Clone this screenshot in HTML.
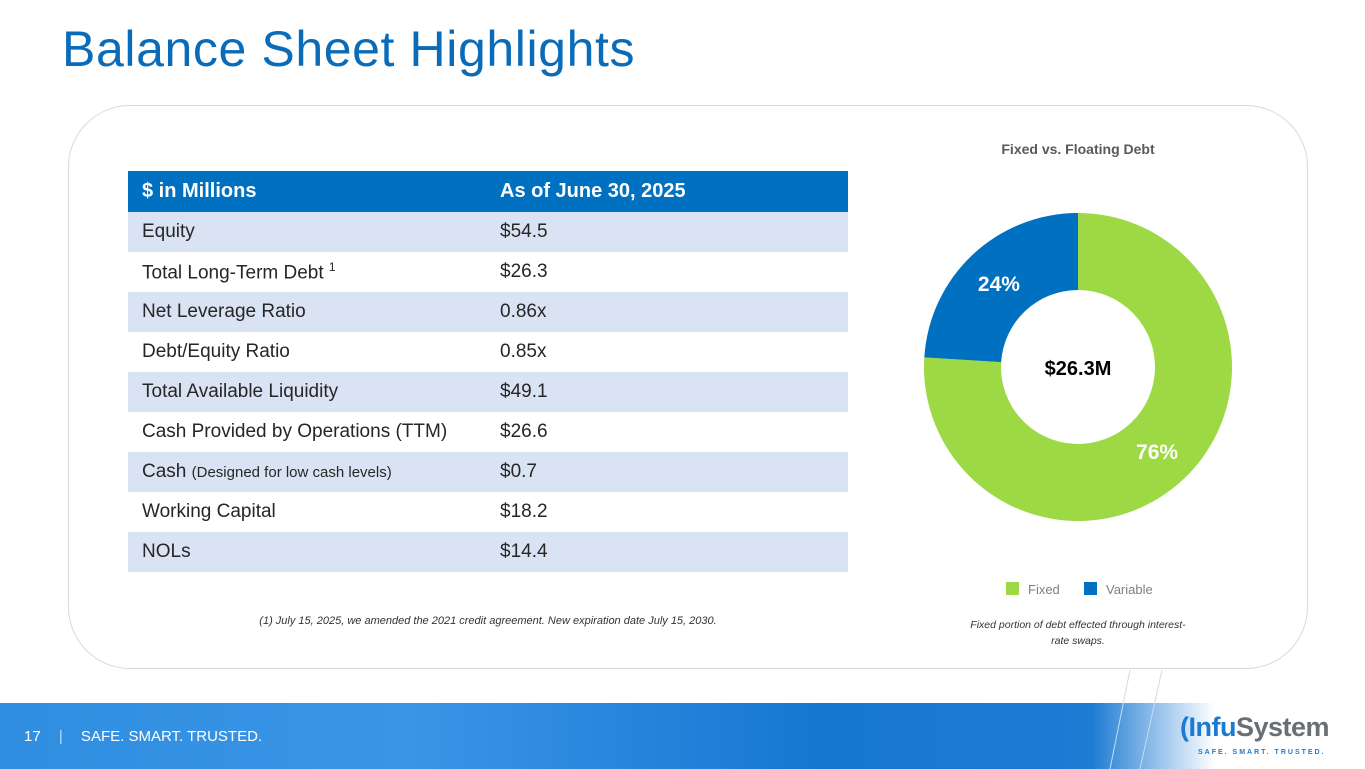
<!DOCTYPE html>
<html><head><meta charset="utf-8"><style>
body{margin:0;width:1365px;height:769px;overflow:hidden;background:#fff;font-family:"Liberation Sans",sans-serif;position:relative}
.abs{position:absolute}
#title{left:62px;top:20px;font-size:50px;color:#0a6bb8;letter-spacing:0.6px}
#card{left:68px;top:105px;width:1238px;height:562px;border:1.5px solid #d9d9d9;border-radius:62px}
table{position:absolute;left:128px;top:171px;width:720px;border-collapse:collapse;font-size:19px;color:#262626}
td{height:40px;padding:0 0 0 14px;box-sizing:border-box}
td.v{padding-left:0;width:348px}
tr.h td{background:#0070c0;color:#fff;font-weight:bold;height:41px;font-size:20px}
tr.a td{background:#dae3f3}
#foot{left:0;top:703px;width:1365px;height:66px;background:linear-gradient(90deg,#2f8ee0 0%,#3a95e6 30%,#1677d3 60%,#1e7bd4 80%,rgba(255,255,255,0.95) 89%,#fff 100%)}
</style></head><body>
<div id="title" class="abs">Balance Sheet Highlights</div>
<div id="card" class="abs"></div>
<table>
<tr class="h"><td>$ in Millions</td><td class="v">As of June 30, 2025</td></tr>
<tr class="a"><td>Equity</td><td class="v">$54.5</td></tr>
<tr><td>Total Long-Term Debt <sup style="font-size:12px">1</sup></td><td class="v">$26.3</td></tr>
<tr class="a"><td>Net Leverage Ratio</td><td class="v">0.86x</td></tr>
<tr><td>Debt/Equity Ratio</td><td class="v">0.85x</td></tr>
<tr class="a"><td>Total Available Liquidity</td><td class="v">$49.1</td></tr>
<tr><td>Cash Provided by Operations (TTM)</td><td class="v">$26.6</td></tr>
<tr class="a"><td>Cash <span style="font-size:15px">(Designed for low cash levels)</span></td><td class="v">$0.7</td></tr>
<tr><td>Working Capital</td><td class="v">$18.2</td></tr>
<tr class="a"><td>NOLs</td><td class="v">$14.4</td></tr>
</table>
<div class="abs" style="left:128px;width:720px;top:615px;text-align:center;font-size:11px;font-style:italic;color:#333">(1) July 15, 2025, we amended the 2021 credit agreement. New expiration date July 15, 2030.</div>
<svg class="abs" style="left:0;top:0" width="1365" height="769">
<text x="1078" y="154" text-anchor="middle" font-size="14" font-weight="bold" fill="#595959" font-family="Liberation Sans">Fixed vs. Floating Debt</text>
<g id="slices"></g>
<text x="1078" y="375" text-anchor="middle" font-size="20" font-weight="bold" fill="#000" font-family="Liberation Sans">$26.3M</text>
<rect x="1006" y="582" width="13" height="13" fill="#9dd944"/>
<text x="1028" y="594" font-size="13" fill="#7f7f7f" font-family="Liberation Sans">Fixed</text>
<rect x="1084" y="582" width="13" height="13" fill="#0070c0"/>
<text x="1106" y="594" font-size="13" fill="#7f7f7f" font-family="Liberation Sans">Variable</text>
<text x="1078" y="628" text-anchor="middle" font-size="10.5" font-style="italic" fill="#333" font-family="Liberation Sans">Fixed portion of debt effected through interest-</text>
<text x="1078" y="644" text-anchor="middle" font-size="10.5" font-style="italic" fill="#333" font-family="Liberation Sans">rate swaps.</text>
</svg>
<div id="foot" class="abs"></div>
<svg class="abs" style="left:0;top:0" width="1365" height="769"><line x1="1130" y1="670" x2="1110" y2="769" stroke="#c9dcef" stroke-width="1"/><line x1="1162" y1="670" x2="1140" y2="769" stroke="#c9dcef" stroke-width="1"/></svg>
<div class="abs" style="left:24px;top:728px;font-size:15px;color:#fff">17 <span style="margin:0 14px;opacity:.7">|</span> SAFE. SMART. TRUSTED.</div>
<div class="abs" style="left:1180px;top:712px;font-size:27px;font-weight:bold;color:#6b6e73;letter-spacing:-0.5px"><span style="color:#1a7bd1">(</span><span style="color:#1a7bd1">Infu</span>System</div>
<div class="abs" style="left:1198px;top:749px;font-size:7px;color:#1a7bd1;letter-spacing:2px;font-weight:bold">SAFE. SMART. TRUSTED.</div>
<script>
const categories=["Fixed","Variable"];
const values=[76,24];
const labels=["76%","24%"];
const colors=["#9dd944","#0070c0"];
const cx=1078,cy=367,R=154,r=77;
const g=document.getElementById('slices');
const ns="http://www.w3.org/2000/svg";
const total=values.reduce((a,b)=>a+b,0);
let ang=0;
function pt(a,rad){return [cx+rad*Math.sin(a),cy-rad*Math.cos(a)];}
values.forEach((v,i)=>{
 const a0=ang/total*2*Math.PI,a1=(ang+v)/total*2*Math.PI;ang+=v;
 const lg=(a1-a0)>Math.PI?1:0;
 const [x0,y0]=pt(a0,R),[x1,y1]=pt(a1,R),[x2,y2]=pt(a1,r),[x3,y3]=pt(a0,r);
 const p=document.createElementNS(ns,'path');
 p.setAttribute('d',`M${x0},${y0}A${R},${R} 0 ${lg} 1 ${x1},${y1}L${x2},${y2}A${r},${r} 0 ${lg} 0 ${x3},${y3}Z`);
 p.setAttribute('fill',colors[i]);
 
 
 g.appendChild(p);
 const am=(a0+a1)/2;const [lx,ly]=pt(am,(R+r)/2);
 const t=document.createElementNS(ns,'text');
 t.setAttribute('x',lx);t.setAttribute('y',ly+8);
 t.setAttribute('text-anchor','middle');t.setAttribute('font-size','21');t.setAttribute('font-weight','bold');
 t.setAttribute('fill','#fff');t.setAttribute('font-family','Liberation Sans');
 t.textContent=labels[i];
 
 
 g.appendChild(t);
});
</script>
</body></html>
